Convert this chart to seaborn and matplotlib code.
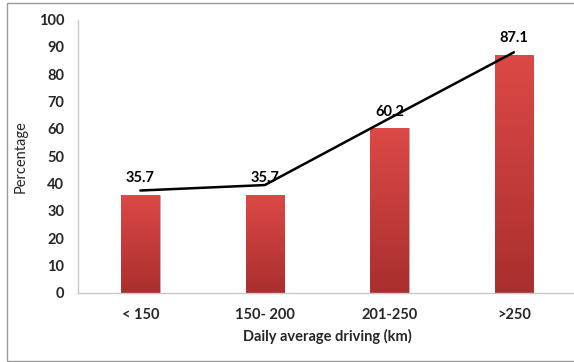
import numpy as np
import pandas as pd
import matplotlib
matplotlib.use("Agg")
import matplotlib.pyplot as plt
import seaborn as sns
from matplotlib.colors import LinearSegmentedColormap
from matplotlib.patches import Rectangle

# data
categories = ["< 150", "150- 200", "201-250", ">250"]
values = [35.7, 35.7, 60.2, 87.1]
trend = [37.4, 39.4, 63.8, 88.0]   # black line drawn over the bars
yticks = list(range(0, 101, 10))

sns.set_theme(style="white")
plt.rcParams["font.family"] = ["Lato", "DejaVu Sans"]

fig = plt.figure(figsize=(5.74, 3.62), dpi=100)
ax = fig.add_axes([0.136, 0.1915, 0.8677, 0.7546])

df = pd.DataFrame({"range": categories, "pct": values})
sns.barplot(data=df, x="range", y="pct", width=0.31, color="#c23b3a",
            saturation=1, ax=ax, zorder=2)

# red vertical gradient inside each bar
cmap = LinearSegmentedColormap.from_list("redgrad", ["#a92f2e", "#dc4946"])
grad = np.linspace(0, 1, 256).reshape(-1, 1)
for bar in ax.patches:
    x0, y0 = bar.get_x(), bar.get_y()
    w, h = bar.get_width(), bar.get_height()
    im = ax.imshow(grad, cmap=cmap, origin="lower", aspect="auto",
                   extent=[x0, x0 + w, y0, y0 + h], zorder=2.5)
    im.set_clip_path(bar)
    bar.set_edgecolor("#b8b8b8")
    bar.set_linewidth(0.4)

for bar, v in zip(ax.patches, values):
    ax.annotate(f"{v}", (bar.get_x() + bar.get_width() / 2, bar.get_height()),
                xytext=(0, 7), textcoords="offset points", ha="center",
                va="bottom", fontsize=10.5, fontweight="bold", color="black")

sns.lineplot(x=np.arange(len(trend)), y=trend, color="black", linewidth=1.8,
             ax=ax, zorder=4)

ax.set_xlim(-0.5, 3.5)
ax.set_ylim(0, 100)
ax.set_yticks(yticks)
ax.tick_params(axis="y", direction="out", length=4, width=0.8, color="#a0a0a0",
               pad=6, labelsize=10.5)
ax.tick_params(axis="x", length=0, pad=11, labelsize=10.5)
for lab in ax.get_xticklabels() + ax.get_yticklabels():
    lab.set_fontweight("bold")

ax.set_xlabel("Daily average driving (km)", fontsize=10.5, fontweight="bold",
              labelpad=5)
ax.set_ylabel("Percentage", fontsize=10.5, labelpad=8)

for side in ["top", "right"]:
    ax.spines[side].set_visible(False)
for side in ["left", "bottom"]:
    ax.spines[side].set_color("#c8c8c8")
    ax.spines[side].set_linewidth(1.0)

# outer chart frame
fig.patches.append(Rectangle((0.012, 0.003), 1.2, 0.988, transform=fig.transFigure,
                             fill=False, edgecolor="#9a9a9a", linewidth=1.0))

fig.savefig("out.png", dpi=100)
